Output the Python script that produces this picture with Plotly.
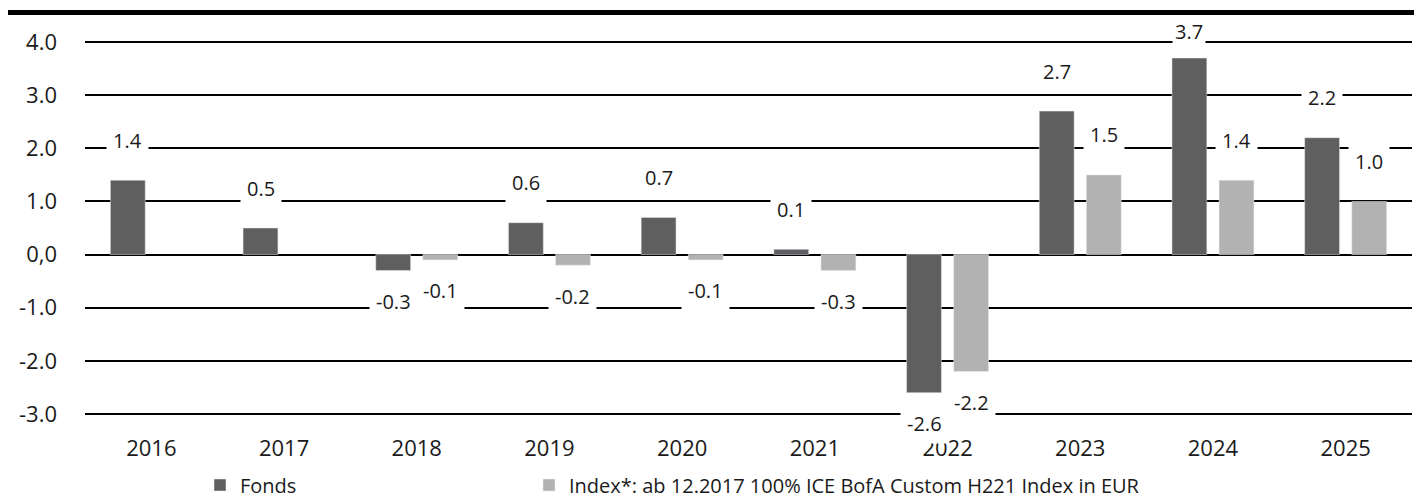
import plotly.graph_objects as go

years = ["2016", "2017", "2018", "2019", "2020", "2021", "2022", "2023", "2024", "2025"]
fonds = [1.4, 0.5, -0.3, 0.6, 0.7, 0.1, -2.6, 2.7, 3.7, 2.2]
index = [None, None, -0.1, -0.2, -0.1, -0.3, -2.2, 1.5, 1.4, 1.0]
series_names = ["Fonds", "Index*: ab 12.2017 100% ICE BofA Custom H221 Index in EUR"]
y_tickvals = [-3, -2, -1, 0, 1, 2, 3, 4]
y_ticktext = ["-3.0", "-2.0", "-1.0", "0,0", "1.0", "2.0", "3.0", "4.0"]

W, H = 1419, 499
ML, MR, MT, MB = 85, 7, 41, 84
PW, PH = W - ML - MR, H - MT - MB
Y0, Y1 = -3.02, 4.02

FONT = "Open Sans"
C_FONDS = "#5f5f5f"
C_INDEX = "#b2b2b2"

fig = go.Figure()
fig.add_trace(go.Bar(x=years, y=fonds, name=series_names[0], marker_color=C_FONDS,
                     legend="legend"))
fig.add_trace(go.Bar(x=years, y=index, name=series_names[1], marker_color=C_INDEX,
                     legend="legend2"))

TOP_LIMIT = 31  # highest allowed label centre, px from figure top


def label_shift(v):
    if v < 0:
        return -31, 6
    bar_top_px = MT + (Y1 - v) / (Y1 - Y0) * PH
    if bar_top_px - 40 < TOP_LIMIT:
        return bar_top_px - TOP_LIMIT, 2
    return 40, 6


annotations = []
for vals, shift in ((fonds, -23.5), (index, 23.5)):
    for i, v in enumerate(vals):
        if v is None:
            continue
        ys, pad = label_shift(v)
        annotations.append(dict(
            x=i, y=v, xref="x", yref="y", text=f"{v:.1f}", showarrow=False,
            xshift=shift, yshift=ys,
            font=dict(family=FONT, size=20, color="#1a1a1a"),
            bgcolor="white", borderpad=pad, xanchor="center", yanchor="middle",
        ))

leg_y = -(485 - MT - PH) / PH
leg_common = dict(orientation="h", yanchor="middle", xanchor="left", y=leg_y,
                  font=dict(family=FONT, size=20, color="#1a1a1a"), itemwidth=30,
                  bgcolor="rgba(0,0,0,0)")
fig.update_layout(
    width=W, height=H,
    margin=dict(l=ML, r=MR, t=MT, b=MB, autoexpand=False),
    paper_bgcolor="white", plot_bgcolor="white",
    barmode="group", bargap=0.29, bargroupgap=0.26,
    font=dict(family=FONT, size=22, color="#1a1a1a"),
    showlegend=True,
    legend=dict(x=(200 - ML) / PW, **leg_common),
    legend2=dict(x=(529 - ML) / PW, **leg_common),
    annotations=annotations,
    shapes=[dict(type="line", xref="paper", yref="paper",
                 x0=(8 - ML) / PW, x1=(1414 - ML) / PW,
                 y0=(PH + MT - 12.5) / PH, y1=(PH + MT - 12.5) / PH,
                 line=dict(color="black", width=5))],
)
fig.update_xaxes(type="category", range=[-0.5, len(years) - 0.5],
                 showgrid=False, showline=False, ticks="",
                 ticklabelstandoff=18, tickfont=dict(size=22), automargin=False)
fig.update_yaxes(range=[Y0, Y1], tickvals=y_tickvals, ticktext=y_ticktext,
                 showgrid=True, gridcolor="black", gridwidth=1.6,
                 zeroline=True, zerolinecolor="black", zerolinewidth=2,
                 showline=False, ticks="", ticklabelstandoff=27, tickfont=dict(size=22),
                 automargin=False)

fig.write_html("out.html", config={"displayModeBar": False},
               post_script="document.body.style.margin='0';")
